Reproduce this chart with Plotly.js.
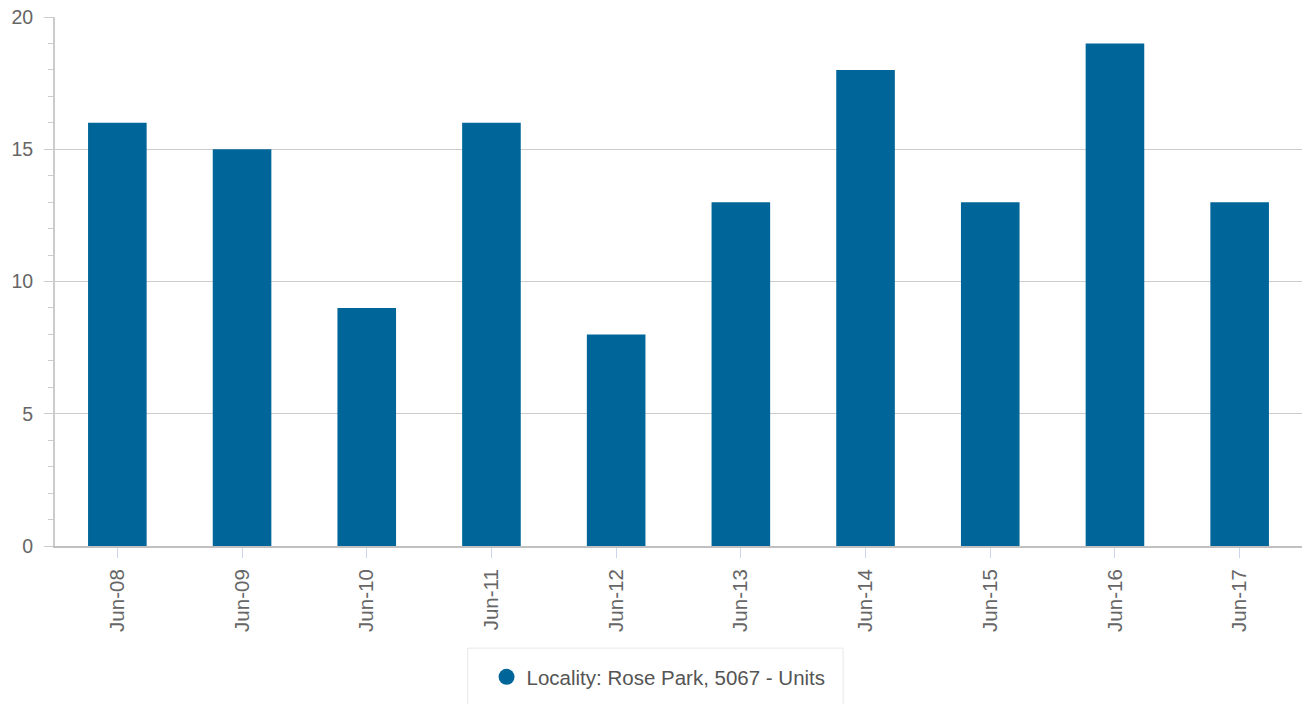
<!DOCTYPE html>
<html>
<head>
<meta charset="utf-8">
<script src="https://cdn.plot.ly/plotly-3.0.1.min.js"></script>
<style>
  html, body { margin: 0; padding: 0; background: #fff; }
  #chart { width: 1302px; height: 704px; }
</style>
</head>
<body>
<div id="chart"></div>
<script>
// values
var categories = ['Jun-08', 'Jun-09', 'Jun-10', 'Jun-11', 'Jun-12', 'Jun-13', 'Jun-14', 'Jun-15', 'Jun-16', 'Jun-17'];
var units = [16, 15, 9, 16, 8, 13, 18, 13, 19, 13];
var seriesName = 'Locality: Rose Park, 5067 - Units';
var yTicks = [0, 5, 10, 15, 20];

var barColor = '#006699';

var bars = {
    type: 'bar',
    x: categories,
    y: units,
    marker: {color: barColor},
    showlegend: false,
    hoverinfo: 'x+y'
};

// legend entry with round marker
var legendItem = {
    type: 'scatter',
    mode: 'markers',
    x: [null],
    y: [null],
    name: seriesName,
    marker: {color: barColor, size: 20, symbol: 'circle'},
    showlegend: true
};

var layout = {
    width: 1302,
    height: 704,
    margin: {l: 55, r: 0, t: 17, b: 158},
    paper_bgcolor: '#ffffff',
    plot_bgcolor: '#ffffff',
    font: {family: 'Liberation Sans, Arial, sans-serif', color: '#666666', size: 19},
    bargap: 0.53,
    xaxis: {
        type: 'category',
        tickangle: -90,
        ticks: 'outside',
        ticklen: 10,
        tickcolor: '#ccd6eb',
        showline: true,
        linecolor: '#c0c0c0',
        linewidth: 2,
        showgrid: false,
        tickfont: {size: 20.5, color: '#666666'},
        ticklabelstandoff: 3
    },
    yaxis: {
        range: [0, 20],
        tickvals: yTicks,
        ticks: 'outside',
        ticklen: 9,
        tickcolor: '#cccccc',
        showline: true,
        linecolor: '#cccccc',
        linewidth: 2,
        gridcolor: '#cccccc',
        gridwidth: 1,
        zeroline: false,
        tickfont: {size: 19.5, color: '#666666'},
        ticklabelstandoff: 7,
        minor: {dtick: 1, ticks: 'outside', ticklen: 5, tickcolor: '#cccccc', showgrid: false}
    },
    legend: {
        orientation: 'h',
        x: 0.484,
        xanchor: 'center',
        y: -0.2476,
        yanchor: 'middle',
        borderwidth: 0,
        bgcolor: 'rgba(0,0,0,0)',
        font: {size: 20.5, color: '#555555'}
    },
    shapes: [{
        // legend frame
        type: 'rect',
        xref: 'paper', yref: 'paper',
        x0: 0.331, x1: 0.632,
        y0: -0.193, y1: -0.33,
        line: {color: '#e8e8e8', width: 1},
        fillcolor: 'rgba(0,0,0,0)',
        layer: 'below'
    }]
};

Plotly.newPlot('chart', [bars, legendItem], layout, {displayModeBar: false});
</script>
</body>
</html>
